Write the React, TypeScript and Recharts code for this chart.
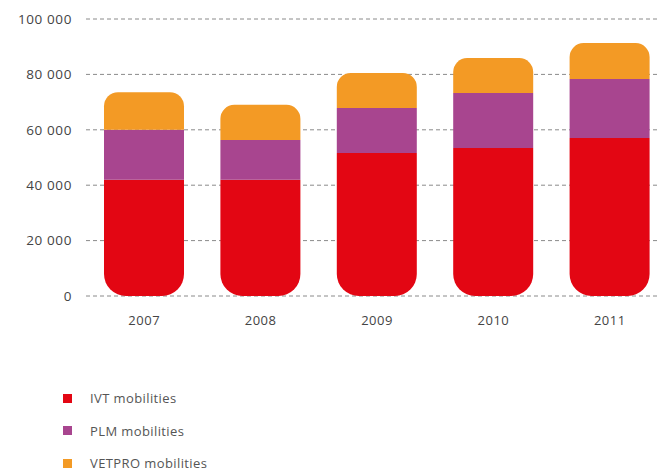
import React from 'react';
import { Bar, BarChart, CartesianGrid, XAxis, YAxis } from 'recharts';

const years = ['2007', '2008', '2009', '2010', '2011'];
const ivt = [42000, 42000, 51600, 53400, 57000];
const plm = [18000, 14300, 16300, 19900, 21300];
const vetpro = [13600, 12700, 12600, 12600, 13000];
const yTicks = [0, 20000, 40000, 60000, 80000, 100000];

const SERIES = [
  { key: 'ivt', label: 'IVT mobilities', color: '#E30613' },
  { key: 'plm', label: 'PLM mobilities', color: '#A8458F' },
  { key: 'vetpro', label: 'VETPRO mobilities', color: '#F39A25' },
];

const data = years.map((year, i) => ({
  year,
  ivt: ivt[i],
  plm: plm[i],
  vetpro: vetpro[i],
}));

const FONT = '"Open Sans", "DejaVu Sans", sans-serif';

const formatTick = (v: number) =>
  v === 0 ? '0' : String(v).replace(/(\d)(?=(\d{3})+$)/g, '$1 ');

export default function App() {
  return (
    <div
      style={{
        position: 'relative',
        width: 668,
        height: 475,
        margin: '-8px 0 0 -8px',
        background: '#fff',
        fontFamily: FONT,
      }}
    >
      <BarChart
        width={668}
        height={340}
        data={data}
        margin={{ top: 19, right: 0, bottom: 0, left: 0 }}
        barSize={80}
      >
        <CartesianGrid
          vertical={false}
          stroke='#8a8a8a'
          strokeDasharray='4 3'
        />
        <XAxis
          dataKey='year'
          axisLine={false}
          tickLine={false}
          height={44}
          tickMargin={14}
          tick={{ fontSize: 13, fill: '#444', fontFamily: FONT, letterSpacing: 0.5 }}
        />
        <YAxis
          width={86}
          domain={[0, 100000]}
          ticks={yTicks}
          axisLine={false}
          tickLine={false}
          tickMargin={8}
          tickFormatter={formatTick}
          tick={{ fontSize: 13.5, fill: '#444', fontFamily: FONT, letterSpacing: 0.6 }}
        />
        <Bar
          dataKey='ivt'
          stackId='a'
          fill={SERIES[0].color}
          radius={[0, 0, 22, 22]}
          isAnimationActive={false}
        />
        <Bar
          dataKey='plm'
          stackId='a'
          fill={SERIES[1].color}
          isAnimationActive={false}
        />
        <Bar
          dataKey='vetpro'
          stackId='a'
          fill={SERIES[2].color}
          radius={[14, 14, 0, 0]}
          isAnimationActive={false}
        />
      </BarChart>
      <div style={{ position: 'absolute', left: 63, top: 382 }}>
        {SERIES.map((s) => (
          <div
            key={s.key}
            style={{ display: 'flex', alignItems: 'center', height: 32.5 }}
          >
            <span
              style={{
                display: 'inline-block',
                width: 9,
                height: 9,
                background: s.color,
                marginRight: 18,
              }}
            />
            <span style={{ fontSize: 13, color: '#555', letterSpacing: 0.4 }}>
              {s.label}
            </span>
          </div>
        ))}
      </div>
    </div>
  );
}
